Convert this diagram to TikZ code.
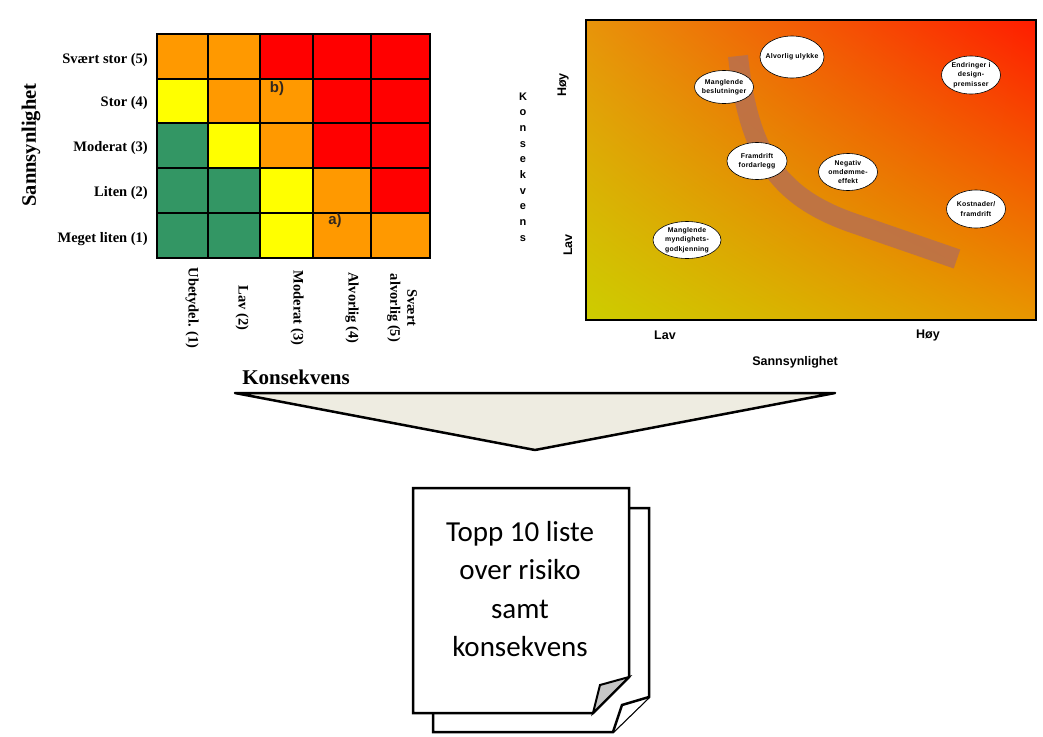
\documentclass[tikz,border=0pt]{standalone}
\usepackage{fontspec}
\setmainfont{Liberation Serif}
\newfontfamily\arialf{Liberation Sans}
\newfontfamily\ellf[LetterSpace=4]{Liberation Sans}
\newfontfamily\carlito{Carlito}
\usetikzlibrary{shapes.geometric,shadings}
\definecolor{mO}{RGB}{255,153,0}
\definecolor{mR}{RGB}{255,0,0}
\definecolor{mY}{RGB}{255,255,0}
\definecolor{mG}{RGB}{51,150,100}
\definecolor{cUL}{RGB}{232,148,10}
\definecolor{cUR}{RGB}{255,28,0}
\definecolor{cLL}{RGB}{205,205,0}
\definecolor{cLR}{RGB}{232,150,0}
\definecolor{band}{RGB}{185,112,78}
\definecolor{tri}{RGB}{238,236,225}
\definecolor{lbl}{RGB}{50,40,30}
\tikzset{
  rowlab/.style={font=\bfseries\fontsize{14.5}{16}\selectfont, anchor=east, inner sep=0pt},
  collab/.style={font=\bfseries\fontsize{14.5}{17}\selectfont, rotate=-90, align=center, inner sep=0pt},
  bigserif/.style={font=\bfseries\fontsize{21}{24}\selectfont, inner sep=0pt},
  cell/.style={draw=black, line width=1.2pt},
  ell/.style={ellipse, draw=black, line width=0.6pt, fill=white, inner sep=0pt},
  elltxt/.style={inner sep=0pt, align=center, font=\ellf\bfseries\fontsize{6.9}{9.4}\selectfont},
  axlab/.style={font=\arialf\bfseries\fontsize{12.5}{14}\selectfont, inner sep=0pt},
  page/.style={draw=black, line width=2.5pt, line join=miter, fill=white},
}
\begin{document}
\begin{tikzpicture}[x=1pt, y=-1pt]
\useasboundingbox (0,0) rectangle (1043,736);
\fill[white] (0,0) rectangle (1043,736);
% ---------- risk matrix ----------
\def\ys{{34,79,123,168,213,258}}
\def\xs{{157,208,260,313,371,430}}
\foreach \row [count=\r from 0] in {{mO,mO,mR,mR,mR},{mY,mO,mO,mR,mR},{mG,mY,mO,mR,mR},{mG,mG,mY,mO,mR},{mG,mG,mY,mO,mO}} {
  \foreach \cc [count=\c from 0] in \row {
    \pgfmathsetmacro\xa{\xs[\c]}
    \pgfmathsetmacro\xb{\xs[\c+1]}
    \pgfmathsetmacro\ya{\ys[\r]}
    \pgfmathsetmacro\yb{\ys[\r+1]}
    \draw[cell, fill=\cc] (\xa,\ya) rectangle (\xb,\yb);
  }
}
\node[font=\arialf\bfseries\fontsize{15}{17}\selectfont, text=lbl, inner sep=0pt] (lb) at (277,89) {b)};
\node[font=\arialf\bfseries\fontsize{15}{17}\selectfont, text=lbl, inner sep=0pt] (la) at (335,221) {a)};
\node[rowlab] (r5) at (148,60) {Svært stor (5)};
\node[rowlab] (r4) at (148,103) {Stor (4)};
\node[rowlab] (r3) at (148,148) {Moderat (3)};
\node[rowlab] (r2) at (148,193) {Liten (2)};
\node[rowlab] (r1) at (148,239) {Meget liten (1)};
\node[bigserif, font=\bfseries\fontsize{20.5}{24}\selectfont, rotate=90] (sann) at (31,145) {Sannsynlighet};
\node[collab] (c1) at (192,308) {Ubetydel. (1)};
\node[collab] (c2) at (242,308) {Lav (2)};
\node[collab] (c3) at (297,308) {Moderat (3)};
\node[collab] (c4) at (352,308) {Alvorlig (4)};
\node[collab] (c5) at (402,308) {Svært\\alvorlig (5)};
\node[bigserif] (kons) at (296,377) {Konsekvens};
% ---------- right chart ----------
\shade[upper left=cUL, upper right=cUR, lower left=cLL, lower right=cLR] (586,20) rectangle (1036,320);
\draw[line width=2pt] (586,20) rectangle (1036,320);
\draw[line width=20pt, band, opacity=0.85] (738,56) .. controls (748,150) and (775,195) .. (850,222) -- (957,259);
\node[ell, minimum width=64, minimum height=42] (e1) at (792,57) {};
\node[elltxt] (t1) at (e1) {Alvorlig ulykke};
\node[ell, minimum width=59, minimum height=33] (e2) at (724,87) {};
\node[elltxt] (t2) at (e2) {Manglende\\beslutninger};
\node[ell, minimum width=59, minimum height=38] (e3) at (971,75) {};
\node[elltxt] (t3) at (e3) {Endringer i\\design-\\premisser};
\node[ell, minimum width=60, minimum height=37] (e4) at (757,161) {};
\node[elltxt] (t4) at (e4) {Framdrift\\fordarlegg};
\node[ell, minimum width=59, minimum height=37] (e5) at (848,172) {};
\node[elltxt] (t5) at (e5) {Negativ\\omdømme-\\effekt};
\node[ell, minimum width=59, minimum height=38] (e6) at (976,209) {};
\node[elltxt] (t6) at (e6) {Kostnader/\\framdrift};
\node[ell, minimum width=68, minimum height=37] (e7) at (687,240) {};
\node[elltxt] (t7) at (e7) {Manglende\\myndighets-\\godkjenning};
\node[axlab, rotate=90] (hoy1) at (563,85) {Høy};
\node[axlab, rotate=90] (lav1) at (568,245) {Lav};
\node[font=\arialf\bfseries\fontsize{11}{15.7}\selectfont, align=center, inner sep=0pt] (kv) at (523,167) {K\\o\\n\\s\\e\\k\\v\\e\\n\\s};
\node[axlab] (lav2) at (665,335) {Lav};
\node[axlab] (hoy2) at (928,335) {Høy};
\node[axlab] (sann2) at (795,362) {Sannsynlighet};
% ---------- funnel triangle ----------
\draw[line width=2.5pt, fill=tri, line join=round] (235,393) -- (835,393) -- (535,450) -- cycle;
% ---------- document pages ----------
\draw[page] (433,508) -- (649,508) -- (649,697) -- (613,732) -- (433,732) -- cycle;
\draw[page] (649,697) -- (622,705) -- (613,732);
\draw[page] (413,488) -- (629,488) -- (629,677) -- (593,713) -- (413,713) -- cycle;
\draw[page, fill=gray!45, line width=2pt] (629,677) -- (600,685) -- (593,713) -- cycle;
\node[font=\carlito\fontsize{29}{38.5}\selectfont, align=center, inner sep=0pt] (doc) at (520,589) {Topp 10 liste\\over risiko\\samt\\konsekvens};
\end{tikzpicture}
\end{document}
